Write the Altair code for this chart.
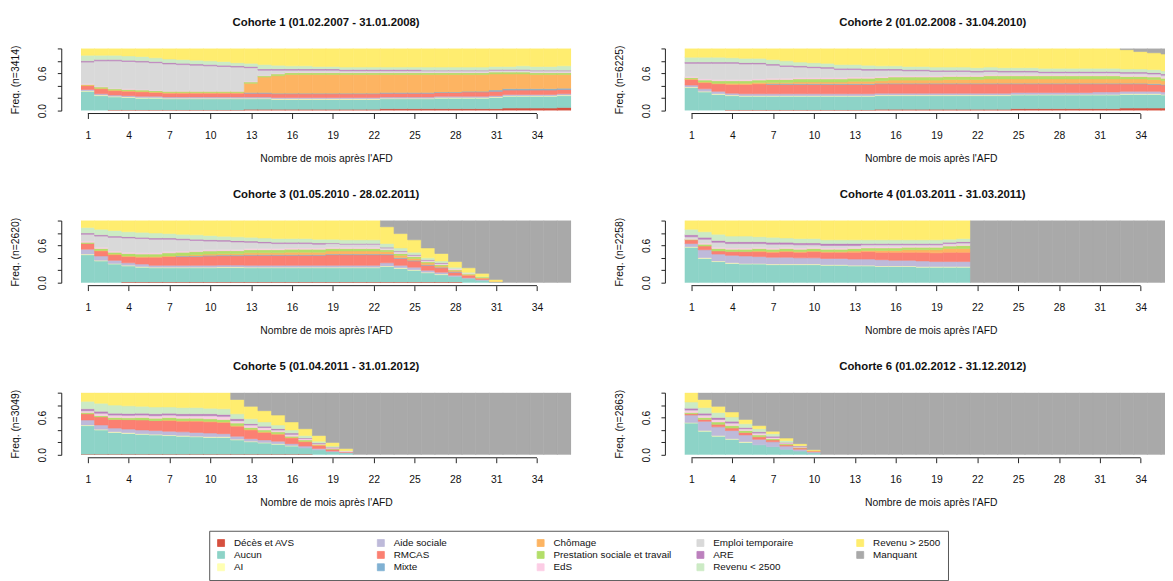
import altair as alt
import pandas as pd

STATES = ["Décès et AVS", "Aucun", "AI", "Aide sociale", "RMCAS", "Mixte", "Chômage",
          "Prestation sociale et travail", "EdS", "Emploi temporaire", "ARE",
          "Revenu < 2500", "Revenu > 2500", "Manquant"]
COLORS = ["#D6503F", "#8DD3C7", "#FFFFB3", "#BEBADA", "#FB8072", "#80B1D3", "#FDB462",
          "#B3DE69", "#FCCDE5", "#D9D9D9", "#BC80BD", "#CCEBC5", "#FFED6F", "#A9A9A9"]
# legend read row by row (the reference fills its 3 rows column by column)
LEGEND_ORDER = ["Décès et AVS", "Aide sociale", "Chômage", "Emploi temporaire", "Revenu > 2500",
                "Aucun", "RMCAS", "Prestation sociale et travail", "ARE", "Manquant",
                "AI", "Mixte", "EdS", "Revenu < 2500"]

TITLES = ["Cohorte 1 (01.02.2007 - 31.01.2008)", "Cohorte 2 (01.02.2008 - 31.04.2010)",
          "Cohorte 3 (01.05.2010 - 28.02.2011)", "Cohorte 4 (01.03.2011 - 31.03.2011)",
          "Cohorte 5 (01.04.2011 - 31.01.2012)", "Cohorte 6 (01.02.2012 - 31.12.2012)"]
NS = [3414, 6225, 2620, 2258, 3049, 2863]
X_TICKS = [1, 4, 7, 10, 13, 16, 19, 22, 25, 28, 31, 34]
Y_TICKS = [0, 0.2, 0.4, 0.6, 0.8, 1.0]
X_TITLE = "Nombre de mois après l'AFD"

# one row per month (1..36), columns in STATES order
C1 = [
    [.00, .31, .01, .02, .06, .00, .01, .01, .01, .35, .02, .09, .11, 0],
    [.00, .24, .01, .02, .08, .00, .01, .02, .01, .41, .02, .07, .11, 0],
    [.01, .21, .01, .02, .07, .00, .01, .02, .01, .44, .02, .07, .11, 0],
    [.01, .20, .01, .02, .07, .00, .01, .02, .01, .44, .02, .07, .12, 0],
    [.01, .19, .01, .02, .07, .00, .01, .02, .01, .44, .02, .07, .13, 0],
    [.01, .19, .01, .02, .06, .00, .01, .02, .01, .44, .02, .06, .15, 0],
    [.01, .18, .01, .02, .06, .00, .01, .02, .01, .43, .02, .06, .17, 0],
    [.01, .18, .01, .02, .06, .00, .01, .02, .01, .42, .02, .06, .18, 0],
    [.01, .18, .01, .02, .06, .00, .01, .02, .01, .41, .02, .06, .19, 0],
    [.01, .18, .01, .02, .06, .00, .01, .02, .01, .40, .02, .06, .20, 0],
    [.01, .18, .01, .02, .06, .00, .01, .02, .01, .39, .02, .06, .21, 0],
    [.01, .18, .01, .02, .06, .00, .01, .02, .01, .38, .02, .05, .23, 0],
    [.02, .17, .01, .02, .06, .01, .15, .02, .01, .22, .02, .05, .24, 0],
    [.02, .17, .01, .02, .06, .01, .25, .02, .01, .08, .02, .07, .26, 0],
    [.02, .16, .01, .02, .06, .01, .28, .03, .01, .05, .02, .06, .27, 0],
    [.02, .16, .01, .02, .06, .01, .30, .03, .01, .03, .02, .05, .28, 0],
    [.02, .16, .01, .02, .06, .01, .30, .03, .01, .03, .02, .05, .28, 0],
    [.02, .16, .01, .02, .06, .01, .30, .03, .01, .03, .02, .04, .29, 0],
    [.02, .16, .01, .02, .06, .01, .30, .03, .01, .03, .02, .04, .29, 0],
    [.02, .16, .01, .02, .06, .01, .30, .03, .01, .02, .02, .04, .30, 0],
    [.02, .16, .01, .02, .06, .01, .30, .03, .01, .02, .02, .04, .30, 0],
    [.02, .16, .01, .02, .06, .01, .30, .03, .01, .02, .02, .04, .30, 0],
    [.03, .16, .01, .02, .06, .01, .29, .03, .01, .02, .02, .04, .30, 0],
    [.03, .16, .01, .02, .06, .01, .29, .03, .01, .02, .02, .04, .30, 0],
    [.03, .16, .01, .02, .06, .01, .29, .03, .01, .02, .02, .04, .30, 0],
    [.03, .16, .01, .02, .06, .01, .29, .03, .01, .02, .01, .05, .30, 0],
    [.03, .17, .01, .02, .06, .01, .28, .03, .01, .02, .01, .05, .30, 0],
    [.03, .17, .01, .02, .06, .01, .28, .03, .01, .02, .01, .05, .30, 0],
    [.03, .17, .01, .02, .07, .01, .27, .03, .01, .02, .01, .05, .30, 0],
    [.03, .17, .01, .02, .07, .01, .27, .03, .01, .02, .01, .05, .30, 0],
    [.03, .18, .01, .02, .07, .02, .26, .03, .01, .02, .01, .05, .29, 0],
    [.04, .19, .01, .02, .07, .02, .24, .03, .01, .02, .01, .05, .29, 0],
    [.04, .19, .01, .02, .07, .02, .24, .03, .01, .02, .01, .06, .28, 0],
    [.04, .19, .01, .02, .07, .02, .23, .03, .01, .02, .01, .06, .29, 0],
    [.04, .19, .01, .02, .07, .02, .23, .03, .01, .02, .01, .06, .29, 0],
    [.05, .19, .01, .02, .07, .02, .22, .03, .01, .02, .01, .07, .28, 0],
]

C2 = [
    [.00, .37, .01, .03, .09, .00, .01, .02, .02, .21, .02, .08, .14, 0],
    [.00, .30, .01, .04, .10, .00, .01, .03, .02, .25, .02, .08, .14, 0],
    [.00, .26, .01, .04, .12, .00, .01, .04, .02, .26, .02, .08, .14, 0],
    [.01, .23, .01, .03, .14, .00, .02, .04, .02, .26, .02, .07, .15, 0],
    [.01, .22, .01, .03, .15, .00, .02, .04, .02, .25, .02, .07, .16, 0],
    [.01, .22, .01, .03, .16, .00, .02, .04, .02, .24, .02, .07, .16, 0],
    [.01, .22, .01, .03, .15, .01, .02, .05, .02, .21, .02, .07, .18, 0],
    [.01, .22, .01, .03, .15, .01, .02, .05, .02, .19, .02, .07, .20, 0],
    [.01, .22, .01, .03, .15, .01, .03, .05, .02, .17, .02, .06, .22, 0],
    [.01, .22, .01, .03, .15, .01, .03, .05, .02, .16, .02, .06, .23, 0],
    [.01, .22, .01, .03, .15, .01, .03, .05, .02, .15, .02, .06, .24, 0],
    [.01, .22, .01, .03, .15, .01, .03, .05, .02, .13, .02, .06, .26, 0],
    [.01, .22, .01, .03, .15, .01, .04, .05, .02, .12, .02, .06, .26, 0],
    [.01, .22, .01, .03, .15, .01, .04, .05, .02, .11, .02, .06, .27, 0],
    [.02, .22, .01, .03, .15, .01, .04, .05, .02, .10, .02, .05, .28, 0],
    [.02, .22, .01, .03, .15, .01, .05, .05, .02, .09, .02, .05, .28, 0],
    [.02, .22, .01, .03, .15, .01, .05, .05, .02, .08, .02, .05, .29, 0],
    [.02, .22, .01, .03, .15, .01, .05, .05, .02, .08, .02, .05, .29, 0],
    [.02, .22, .01, .03, .15, .01, .05, .05, .02, .07, .02, .05, .30, 0],
    [.02, .22, .01, .03, .15, .01, .06, .05, .02, .06, .02, .05, .30, 0],
    [.02, .22, .01, .03, .15, .01, .06, .05, .02, .06, .02, .05, .30, 0],
    [.02, .22, .01, .03, .15, .01, .06, .05, .02, .05, .02, .05, .31, 0],
    [.02, .22, .01, .03, .15, .01, .07, .05, .02, .05, .02, .05, .30, 0],
    [.02, .22, .01, .03, .15, .01, .07, .05, .02, .04, .02, .05, .31, 0],
    [.03, .22, .01, .03, .14, .01, .07, .05, .02, .04, .02, .05, .31, 0],
    [.03, .22, .01, .03, .14, .01, .07, .05, .02, .04, .02, .05, .31, 0],
    [.03, .22, .01, .03, .14, .01, .07, .05, .02, .03, .02, .05, .32, 0],
    [.03, .22, .01, .03, .14, .01, .07, .05, .02, .03, .02, .05, .32, 0],
    [.03, .22, .01, .03, .14, .01, .07, .05, .02, .03, .02, .05, .32, 0],
    [.03, .22, .01, .03, .14, .01, .07, .05, .02, .03, .02, .05, .32, 0],
    [.03, .22, .01, .04, .13, .01, .07, .05, .02, .03, .02, .05, .32, 0],
    [.03, .22, .01, .04, .13, .01, .07, .05, .02, .03, .02, .05, .32, 0],
    [.04, .22, .01, .04, .12, .01, .07, .04, .02, .03, .02, .05, .31, .02],
    [.04, .22, .01, .04, .12, .01, .07, .04, .02, .03, .02, .05, .28, .05],
    [.04, .22, .01, .04, .11, .01, .07, .04, .02, .03, .02, .05, .27, .07],
    [.04, .21, .01, .04, .11, .01, .06, .04, .02, .03, .02, .05, .27, .09],
]

C3 = [
    [.00, .45, .01, .08, .09, .00, .00, .02, .02, .11, .02, .09, .11, 0],
    [.00, .35, .01, .07, .08, .00, .01, .03, .02, .18, .02, .09, .14, 0],
    [.00, .30, .01, .05, .09, .00, .01, .03, .02, .22, .02, .09, .16, 0],
    [.01, .26, .01, .04, .10, .00, .01, .04, .02, .23, .02, .08, .18, 0],
    [.01, .24, .01, .04, .11, .00, .01, .04, .02, .23, .02, .08, .19, 0],
    [.01, .23, .01, .03, .13, .00, .01, .04, .02, .22, .02, .08, .20, 0],
    [.01, .23, .01, .03, .14, .00, .01, .05, .02, .20, .02, .07, .21, 0],
    [.01, .23, .01, .03, .14, .01, .01, .05, .02, .18, .02, .07, .22, 0],
    [.01, .23, .01, .03, .14, .01, .02, .05, .02, .16, .02, .07, .23, 0],
    [.01, .23, .01, .03, .15, .01, .02, .05, .02, .14, .02, .07, .24, 0],
    [.01, .23, .01, .03, .15, .01, .02, .05, .02, .13, .02, .06, .25, 0],
    [.01, .23, .01, .03, .15, .01, .02, .05, .02, .12, .02, .06, .26, 0],
    [.01, .23, .01, .03, .16, .01, .03, .05, .02, .10, .02, .06, .27, 0],
    [.01, .23, .01, .03, .16, .01, .03, .05, .02, .09, .02, .06, .28, 0],
    [.01, .23, .01, .03, .16, .01, .03, .05, .02, .08, .02, .06, .29, 0],
    [.01, .23, .01, .03, .16, .01, .04, .05, .02, .07, .02, .06, .29, 0],
    [.01, .23, .01, .03, .16, .01, .04, .05, .02, .07, .02, .06, .29, 0],
    [.01, .23, .01, .03, .16, .01, .04, .05, .02, .06, .02, .06, .30, 0],
    [.01, .23, .01, .03, .17, .01, .05, .04, .02, .06, .01, .06, .30, 0],
    [.01, .23, .01, .03, .17, .01, .05, .04, .02, .05, .01, .06, .31, 0],
    [.01, .23, .01, .03, .17, .01, .05, .04, .02, .05, .01, .06, .31, 0],
    [.01, .23, .01, .03, .17, .01, .05, .04, .02, .05, .01, .06, .31, 0],
    [.01, .25, .01, .05, .13, .01, .04, .03, .01, .02, .01, .06, .27, .10],
    [.01, .22, .01, .04, .11, .01, .04, .03, .01, .02, .01, .05, .23, .21],
    [.01, .19, .01, .04, .10, .01, .03, .03, .01, .01, .01, .04, .20, .31],
    [.01, .15, .01, .03, .08, .01, .03, .02, .01, .01, .01, .03, .16, .44],
    [.01, .12, .01, .03, .07, .01, .02, .02, .01, .01, .01, .03, .12, .53],
    [.01, .09, .00, .02, .05, .01, .02, .01, .01, .01, .00, .02, .09, .66],
    [.00, .07, .00, .01, .04, .00, .01, .01, .01, .00, .00, .02, .07, .76],
    [.00, .04, .00, .01, .02, .00, .01, .01, .00, .00, .00, .01, .05, .85],
    [.00, .01, .00, .00, .01, .00, .00, .00, .00, .00, .00, .00, .03, .95],
    [0, 0, 0, 0, 0, 0, 0, 0, 0, 0, 0, 0, 0, 1],
    [0, 0, 0, 0, 0, 0, 0, 0, 0, 0, 0, 0, 0, 1],
    [0, 0, 0, 0, 0, 0, 0, 0, 0, 0, 0, 0, 0, 1],
    [0, 0, 0, 0, 0, 0, 0, 0, 0, 0, 0, 0, 0, 1],
    [0, 0, 0, 0, 0, 0, 0, 0, 0, 0, 0, 0, 0, 1],
]

C4 = [
    [.00, .57, .01, .05, .06, .00, .00, .01, .01, .03, .03, .09, .14, 0],
    [.00, .39, .01, .13, .06, .00, .00, .03, .02, .06, .03, .09, .18, 0],
    [.00, .34, .01, .11, .05, .00, .00, .04, .02, .08, .03, .10, .22, 0],
    [.00, .31, .01, .12, .06, .00, .00, .04, .02, .07, .03, .09, .25, 0],
    [.00, .30, .01, .12, .07, .00, .00, .04, .02, .07, .03, .09, .25, 0],
    [.00, .30, .01, .11, .08, .00, .01, .04, .02, .06, .03, .08, .26, 0],
    [.00, .29, .01, .11, .08, .00, .01, .04, .02, .06, .03, .08, .27, 0],
    [.00, .29, .01, .11, .09, .00, .01, .04, .02, .05, .03, .07, .28, 0],
    [.00, .29, .01, .10, .09, .00, .01, .04, .02, .05, .03, .07, .29, 0],
    [.00, .29, .01, .10, .10, .00, .01, .04, .02, .04, .03, .07, .29, 0],
    [.00, .28, .01, .10, .10, .00, .01, .04, .02, .04, .03, .06, .31, 0],
    [.00, .28, .01, .10, .10, .00, .01, .04, .02, .04, .03, .06, .31, 0],
    [.00, .27, .01, .10, .11, .00, .02, .04, .02, .03, .03, .06, .31, 0],
    [.00, .27, .01, .10, .12, .00, .02, .04, .02, .03, .02, .06, .31, 0],
    [.00, .26, .01, .10, .12, .00, .03, .04, .02, .03, .02, .06, .31, 0],
    [.00, .26, .01, .09, .13, .00, .03, .04, .02, .03, .02, .06, .31, 0],
    [.00, .26, .01, .09, .13, .00, .04, .04, .02, .02, .02, .06, .31, 0],
    [.00, .25, .01, .09, .14, .00, .04, .04, .02, .02, .02, .06, .31, 0],
    [.00, .25, .01, .08, .14, .00, .05, .04, .02, .02, .02, .06, .31, 0],
    [.00, .25, .01, .08, .15, .00, .06, .04, .02, .02, .02, .05, .30, 0],
    [.00, .25, .01, .08, .15, .00, .06, .05, .02, .02, .02, .05, .29, 0],
    [0, 0, 0, 0, 0, 0, 0, 0, 0, 0, 0, 0, 0, 1],
    [0, 0, 0, 0, 0, 0, 0, 0, 0, 0, 0, 0, 0, 1],
    [0, 0, 0, 0, 0, 0, 0, 0, 0, 0, 0, 0, 0, 1],
    [0, 0, 0, 0, 0, 0, 0, 0, 0, 0, 0, 0, 0, 1],
    [0, 0, 0, 0, 0, 0, 0, 0, 0, 0, 0, 0, 0, 1],
    [0, 0, 0, 0, 0, 0, 0, 0, 0, 0, 0, 0, 0, 1],
    [0, 0, 0, 0, 0, 0, 0, 0, 0, 0, 0, 0, 0, 1],
    [0, 0, 0, 0, 0, 0, 0, 0, 0, 0, 0, 0, 0, 1],
    [0, 0, 0, 0, 0, 0, 0, 0, 0, 0, 0, 0, 0, 1],
    [0, 0, 0, 0, 0, 0, 0, 0, 0, 0, 0, 0, 0, 1],
    [0, 0, 0, 0, 0, 0, 0, 0, 0, 0, 0, 0, 0, 1],
    [0, 0, 0, 0, 0, 0, 0, 0, 0, 0, 0, 0, 0, 1],
    [0, 0, 0, 0, 0, 0, 0, 0, 0, 0, 0, 0, 0, 1],
    [0, 0, 0, 0, 0, 0, 0, 0, 0, 0, 0, 0, 0, 1],
    [0, 0, 0, 0, 0, 0, 0, 0, 0, 0, 0, 0, 0, 1],
]

C5 = [
    [.01, .46, .01, .08, .10, .00, .00, .02, .02, .01, .03, .12, .14, 0],
    [.01, .39, .01, .07, .13, .00, .00, .02, .03, .01, .03, .13, .17, 0],
    [.01, .35, .01, .06, .14, .00, .00, .03, .03, .01, .03, .13, .20, 0],
    [.01, .33, .01, .06, .15, .00, .00, .03, .03, .01, .03, .12, .21, 0],
    [.01, .32, .01, .06, .16, .00, .00, .04, .03, .01, .03, .11, .22, 0],
    [.01, .31, .01, .06, .16, .00, .00, .04, .03, .01, .03, .11, .23, 0],
    [.01, .30, .01, .06, .17, .00, .01, .04, .03, .01, .03, .10, .23, 0],
    [.01, .29, .01, .06, .17, .00, .01, .04, .03, .01, .03, .10, .24, 0],
    [.01, .28, .01, .06, .18, .00, .01, .04, .03, .01, .03, .10, .24, 0],
    [.01, .27, .01, .06, .18, .00, .01, .04, .04, .01, .03, .09, .25, 0],
    [.01, .27, .01, .05, .18, .00, .01, .04, .04, .01, .03, .09, .26, 0],
    [.01, .23, .01, .05, .16, .00, .01, .04, .03, .01, .03, .08, .23, .11],
    [.01, .20, .01, .04, .14, .00, .01, .03, .03, .01, .02, .08, .20, .22],
    [.01, .18, .01, .04, .12, .00, .01, .03, .03, .01, .02, .07, .18, .29],
    [.01, .16, .01, .04, .11, .00, .01, .03, .02, .01, .02, .06, .16, .36],
    [.01, .13, .01, .03, .09, .00, .01, .02, .02, .01, .02, .05, .13, .47],
    [.01, .10, .00, .03, .07, .00, .01, .02, .02, .00, .01, .04, .11, .58],
    [.00, .08, .00, .02, .05, .00, .01, .01, .01, .00, .01, .03, .09, .69],
    [.00, .05, .00, .01, .03, .00, .00, .01, .01, .00, .01, .02, .06, .80],
    [.00, .03, .00, .01, .01, .00, .00, .00, .01, .00, .00, .01, .03, .90],
    [0, 0, 0, 0, 0, 0, 0, 0, 0, 0, 0, 0, 0, 1],
    [0, 0, 0, 0, 0, 0, 0, 0, 0, 0, 0, 0, 0, 1],
    [0, 0, 0, 0, 0, 0, 0, 0, 0, 0, 0, 0, 0, 1],
    [0, 0, 0, 0, 0, 0, 0, 0, 0, 0, 0, 0, 0, 1],
    [0, 0, 0, 0, 0, 0, 0, 0, 0, 0, 0, 0, 0, 1],
    [0, 0, 0, 0, 0, 0, 0, 0, 0, 0, 0, 0, 0, 1],
    [0, 0, 0, 0, 0, 0, 0, 0, 0, 0, 0, 0, 0, 1],
    [0, 0, 0, 0, 0, 0, 0, 0, 0, 0, 0, 0, 0, 1],
    [0, 0, 0, 0, 0, 0, 0, 0, 0, 0, 0, 0, 0, 1],
    [0, 0, 0, 0, 0, 0, 0, 0, 0, 0, 0, 0, 0, 1],
    [0, 0, 0, 0, 0, 0, 0, 0, 0, 0, 0, 0, 0, 1],
    [0, 0, 0, 0, 0, 0, 0, 0, 0, 0, 0, 0, 0, 1],
    [0, 0, 0, 0, 0, 0, 0, 0, 0, 0, 0, 0, 0, 1],
    [0, 0, 0, 0, 0, 0, 0, 0, 0, 0, 0, 0, 0, 1],
    [0, 0, 0, 0, 0, 0, 0, 0, 0, 0, 0, 0, 0, 1],
    [0, 0, 0, 0, 0, 0, 0, 0, 0, 0, 0, 0, 0, 1],
]

C6 = [
    [.00, .51, .01, .12, .02, .00, .00, .02, .03, .01, .03, .10, .15, 0],
    [.00, .38, .01, .15, .03, .00, .00, .03, .03, .01, .03, .09, .13, .11],
    [.00, .30, .01, .14, .04, .00, .00, .04, .03, .01, .03, .08, .10, .22],
    [.00, .25, .01, .13, .04, .00, .00, .04, .03, .01, .03, .07, .08, .31],
    [.00, .20, .01, .11, .04, .00, .00, .03, .02, .01, .02, .06, .07, .43],
    [.00, .16, .00, .09, .04, .00, .00, .03, .02, .01, .02, .05, .05, .53],
    [.00, .13, .00, .08, .03, .00, .00, .02, .02, .00, .02, .04, .04, .62],
    [.00, .09, .00, .05, .02, .00, .00, .02, .01, .00, .01, .03, .04, .73],
    [.00, .06, .00, .03, .02, .00, .00, .01, .01, .00, .01, .01, .03, .82],
    [.00, .03, .00, .02, .01, .00, .00, .00, .00, .00, .00, .00, .02, .92],
    [0, 0, 0, 0, 0, 0, 0, 0, 0, 0, 0, 0, 0, 1],
    [0, 0, 0, 0, 0, 0, 0, 0, 0, 0, 0, 0, 0, 1],
    [0, 0, 0, 0, 0, 0, 0, 0, 0, 0, 0, 0, 0, 1],
    [0, 0, 0, 0, 0, 0, 0, 0, 0, 0, 0, 0, 0, 1],
    [0, 0, 0, 0, 0, 0, 0, 0, 0, 0, 0, 0, 0, 1],
    [0, 0, 0, 0, 0, 0, 0, 0, 0, 0, 0, 0, 0, 1],
    [0, 0, 0, 0, 0, 0, 0, 0, 0, 0, 0, 0, 0, 1],
    [0, 0, 0, 0, 0, 0, 0, 0, 0, 0, 0, 0, 0, 1],
    [0, 0, 0, 0, 0, 0, 0, 0, 0, 0, 0, 0, 0, 1],
    [0, 0, 0, 0, 0, 0, 0, 0, 0, 0, 0, 0, 0, 1],
    [0, 0, 0, 0, 0, 0, 0, 0, 0, 0, 0, 0, 0, 1],
    [0, 0, 0, 0, 0, 0, 0, 0, 0, 0, 0, 0, 0, 1],
    [0, 0, 0, 0, 0, 0, 0, 0, 0, 0, 0, 0, 0, 1],
    [0, 0, 0, 0, 0, 0, 0, 0, 0, 0, 0, 0, 0, 1],
    [0, 0, 0, 0, 0, 0, 0, 0, 0, 0, 0, 0, 0, 1],
    [0, 0, 0, 0, 0, 0, 0, 0, 0, 0, 0, 0, 0, 1],
    [0, 0, 0, 0, 0, 0, 0, 0, 0, 0, 0, 0, 0, 1],
    [0, 0, 0, 0, 0, 0, 0, 0, 0, 0, 0, 0, 0, 1],
    [0, 0, 0, 0, 0, 0, 0, 0, 0, 0, 0, 0, 0, 1],
    [0, 0, 0, 0, 0, 0, 0, 0, 0, 0, 0, 0, 0, 1],
    [0, 0, 0, 0, 0, 0, 0, 0, 0, 0, 0, 0, 0, 1],
    [0, 0, 0, 0, 0, 0, 0, 0, 0, 0, 0, 0, 0, 1],
    [0, 0, 0, 0, 0, 0, 0, 0, 0, 0, 0, 0, 0, 1],
    [0, 0, 0, 0, 0, 0, 0, 0, 0, 0, 0, 0, 0, 1],
    [0, 0, 0, 0, 0, 0, 0, 0, 0, 0, 0, 0, 0, 1],
    [0, 0, 0, 0, 0, 0, 0, 0, 0, 0, 0, 0, 0, 1],
]

COHORTS = [C1, C2, C3, C4, C5, C6]

# ---------------- layout / style ----------------
FONT = "Liberation Sans"
TXT = "#111111"
STEP = 13.8            # px per month
H = 63                 # plot height
W_LEFT = 497
W_RIGHT = 487          # right column is cut by the window edge in the reference

state_color = dict(zip(STATES, COLORS))
color_scale = alt.Scale(domain=LEGEND_ORDER, range=[state_color[s] for s in LEGEND_ORDER])

legend = alt.Legend(
    title=None, orient="none", legendX=130, legendY=489, direction="horizontal",
    columns=5, gridAlign="all", symbolType="square", symbolSize=50,
    symbolStrokeColor="#333333", symbolStrokeWidth=0.8, labelFont=FONT,
    labelFontSize=10, labelColor=TXT, labelOffset=8, labelLimit=220,
    rowPadding=0.5, columnPadding=23, padding=7, strokeColor="#555555",
    fillColor="white",
)


def x_axis(w, right):
    return alt.Axis(values=X_TICKS, domain=False, grid=False, tickSize=5,
                    tickColor="#222222", tickWidth=1, offset=3,
                    labelFont=FONT, labelFontSize=10.5, labelColor=TXT,
                    labelPadding=12, labelFlush=False,
                    titleFont=FONT, titleFontSize=10.5,
                    titleFontWeight="normal", titleColor=TXT,
                    titlePadding=13, titleX=w / 2 + (6 if right else 0))


def panel(rows, title, n, right):
    recs = []
    for m, row in enumerate(rows, start=1):
        assert len(row) == len(STATES)
        for s, v in enumerate(row):
            if v > 0:
                recs.append({"month": m, "state": STATES[s], "idx": s, "value": v})
    df = pd.DataFrame(recs)
    w = W_RIGHT if right else W_LEFT
    xscale = alt.Scale(domain=[0.5, 0.5 + w / STEP], nice=False, zero=False)
    yscale = alt.Scale(domain=[0, 1], nice=False, zero=False)

    base = (
        alt.Chart(df)
        .transform_joinaggregate(total="sum(value)", groupby=["month"])
        .transform_window(cum="sum(value)", groupby=["month"],
                          sort=[alt.SortField("idx")], frame=[None, 0])
        .transform_calculate(
            x0="datum.month - 0.5", x1="datum.month + 0.5",
            y0="(datum.cum - datum.value) / datum.total",
            y1="datum.cum / datum.total",
        )
    )
    rects = base.mark_rect(strokeWidth=0.6, clip=True).encode(
        x=alt.X("x0:Q", scale=xscale, title=X_TITLE, axis=x_axis(w, right)),
        x2="x1:Q",
        y=alt.Y("y0:Q", scale=yscale, title=f"Freq. (n={n})",
                axis=alt.Axis(values=Y_TICKS, grid=False, domain=True,
                              domainColor="#222222", domainWidth=1,
                              tickSize=4, tickColor="#222222", tickWidth=1, offset=20,
                              labelExpr="datum.value == 0 ? '0.0' : (datum.value == 0.6 ? '0.6' : '')",
                              labelAngle=-90, labelAlign="center", labelBaseline="bottom",
                              labelFont=FONT, labelFontSize=10.5, labelColor=TXT,
                              labelPadding=10,
                              titleFont=FONT, titleFontSize=10.5,
                              titleFontWeight="normal", titleColor=TXT,
                              titlePadding=17)),
        y2="y1:Q",
        color=alt.Color("state:N", scale=color_scale, legend=legend),
        stroke=alt.Stroke("state:N", scale=color_scale, legend=None),
    )
    axis_df = pd.DataFrame({"a": [X_TICKS[0]], "b": [X_TICKS[-1]]})
    axis_line = alt.Chart(axis_df).mark_rule(color="#222222", strokeWidth=1).encode(
        x=alt.X("a:Q", scale=xscale, title=X_TITLE, axis=x_axis(w, right)),
        x2="b:Q", y=alt.value(H + 3),
    )
    return alt.layer(rects, axis_line).properties(
        width=w, height=H,
        title=alt.TitleParams(title, font=FONT, fontSize=11.5, fontWeight="bold",
                              color=TXT, anchor="middle", offset=17,
                              dx=8 if right else 0),
    )


panels = [panel(COHORTS[i], TITLES[i], NS[i], i % 2 == 1) for i in range(6)]

chart = (
    alt.concat(*panels, columns=2,
               spacing=alt.RowColnumber(row=25.5, column=44))
    .properties(padding={"left": 3, "top": 5, "right": 0, "bottom": 0})
    .configure(font=FONT)
    .configure_view(stroke=None)
)

chart.save("out.html", embed_options={"renderer": "svg", "actions": False})
